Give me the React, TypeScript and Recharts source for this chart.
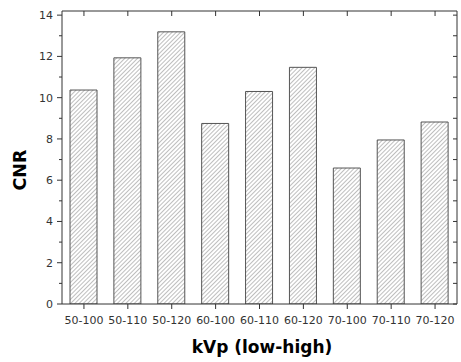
import React from 'react';
import { ComposedChart, Bar, XAxis, YAxis, ReferenceLine } from 'recharts';

const categories = ['50-100', '50-110', '50-120', '60-100', '60-110', '60-120', '70-100', '70-110', '70-120'];
const cnrValues = [10.37, 11.93, 13.19, 8.75, 10.3, 11.47, 6.59, 7.95, 8.82];
const yTicks = [0, 1, 2, 3, 4, 5, 6, 7, 8, 9, 10, 11, 12, 13, 14];

const data = categories.map((c, i) => ({ name: c, cnr: cnrValues[i] }));

const FONT = 'DejaVu Sans, sans-serif';
const CHART_W = 461;
const CHART_H = 362;
const M_TOP = 10;
const M_RIGHT = 3;

const LeftTick = (props: any) => {
  const { x, y, payload } = props;
  const axisX = x + 8;
  const v = payload.value;
  const major = v % 2 === 0;
  return (
    <g>
      <line x1={axisX} x2={axisX - (major ? 5 : 3)} y1={y} y2={y} stroke="#333" strokeWidth={1} />
      {major && (
        <text x={x - 1} y={y} dy={4} textAnchor="end" fontSize={11} fontFamily={FONT} fill="#333">
          {v}
        </text>
      )}
    </g>
  );
};

const BottomTick = (props: any) => {
  const { x, y, payload } = props;
  const axisY = y - 9;
  return (
    <g>
      <line x1={x} x2={x} y1={axisY} y2={axisY + 5} stroke="#333" strokeWidth={1} />
      <text x={x} y={axisY + 20} textAnchor="middle" fontSize={11} fontFamily={FONT} fill="#333">
        {payload.value}
      </text>
    </g>
  );
};

// Draws only the short inward piece of a full-height reference line, at the plot's top edge
const TopEdgeTick = (props: any) => {
  const { x1, y1, y2 } = props;
  const top = Math.min(Number(y1), Number(y2));
  return <line x1={x1} x2={x1} y1={top} y2={top + 5} stroke="#333" strokeWidth={1} />;
};

// Draws only the short inward piece of a full-width reference line, at the plot's right edge
const RightEdgeTick = (props: any) => {
  const { x1, x2, y1 } = props;
  const right = Math.max(Number(x1), Number(x2));
  return <line x1={right - 4} x2={right} y1={y1} y2={y1} stroke="#333" strokeWidth={1} />;
};

export default function App() {
  return (
    <div style={{ position: 'absolute', left: 0, top: 0, width: CHART_W, height: CHART_H, background: '#fff' }}>
      <ComposedChart
        width={CHART_W}
        height={CHART_H}
        data={data}
        margin={{ top: M_TOP, right: M_RIGHT, left: 0, bottom: 0 }}
      >
        <defs>
          <pattern id="hatch" patternUnits="userSpaceOnUse" width={3} height={3} patternTransform="rotate(45)">
            <rect width={3} height={3} fill="#fff" />
            <line x1={0} y1={0} x2={0} y2={3} stroke="#888" strokeWidth={1.1} />
          </pattern>
        </defs>
        <XAxis
          dataKey="name"
          xAxisId="bottom"
          height={58}
          tickLine={false}
          axisLine={{ stroke: '#333' }}
          tickSize={5}
          tickMargin={4}
          interval={0}
          tick={<BottomTick />}
        />
        <XAxis
          dataKey="name"
          xAxisId="top"
          orientation="top"
          height={1}
          tick={false}
          tickSize={0}
          tickMargin={0}
          tickLine={false}
          axisLine={{ stroke: '#333' }}
          interval={0}
        />
        <YAxis
          yAxisId="left"
          width={62}
          domain={[0, 14.2]}
          ticks={yTicks}
          interval={0}
          tickLine={false}
          tickSize={5}
          tickMargin={3}
          axisLine={{ stroke: '#333' }}
          tick={<LeftTick />}
          allowDataOverflow
        />
        <YAxis
          yAxisId="right"
          orientation="right"
          width={1}
          domain={[0, 14.2]}
          ticks={yTicks}
          interval={0}
          tick={false}
          tickSize={0}
          tickMargin={0}
          tickLine={false}
          axisLine={{ stroke: '#333' }}
          allowDataOverflow
        />
        <Bar
          dataKey="cnr"
          xAxisId="bottom"
          yAxisId="left"
          barSize={27}
          fill="url(#hatch)"
          stroke="#555"
          strokeWidth={1}
          isAnimationActive={false}
        />
        <Bar
          dataKey="cnr"
          xAxisId="top"
          yAxisId="right"
          barSize={27}
          fill="none"
          stroke="none"
          legendType="none"
          isAnimationActive={false}
        />
        {categories.map((c) => (
          <ReferenceLine
            key={`top-${c}`}
            x={c}
            xAxisId="bottom"
            yAxisId="left"
            stroke="#333"
            shape={<TopEdgeTick />}
          />
        ))}
        {yTicks.map((v) => (
          <ReferenceLine
            key={`right-${v}`}
            y={v}
            xAxisId="bottom"
            yAxisId="left"
            stroke="#333"
            shape={<RightEdgeTick />}
          />
        ))}
        <text x={262} y={353} textAnchor="middle" fontSize={17} fontWeight="bold" fontFamily={FONT} fill="#000">
          kVp (low-high)
        </text>
        <text
          x={26}
          y={170}
          textAnchor="middle"
          fontSize={17.5}
          fontWeight="bold"
          fontFamily={FONT}
          fill="#000"
          transform="rotate(-90 26 170)"
        >
          CNR
        </text>
      </ComposedChart>
    </div>
  );
}
